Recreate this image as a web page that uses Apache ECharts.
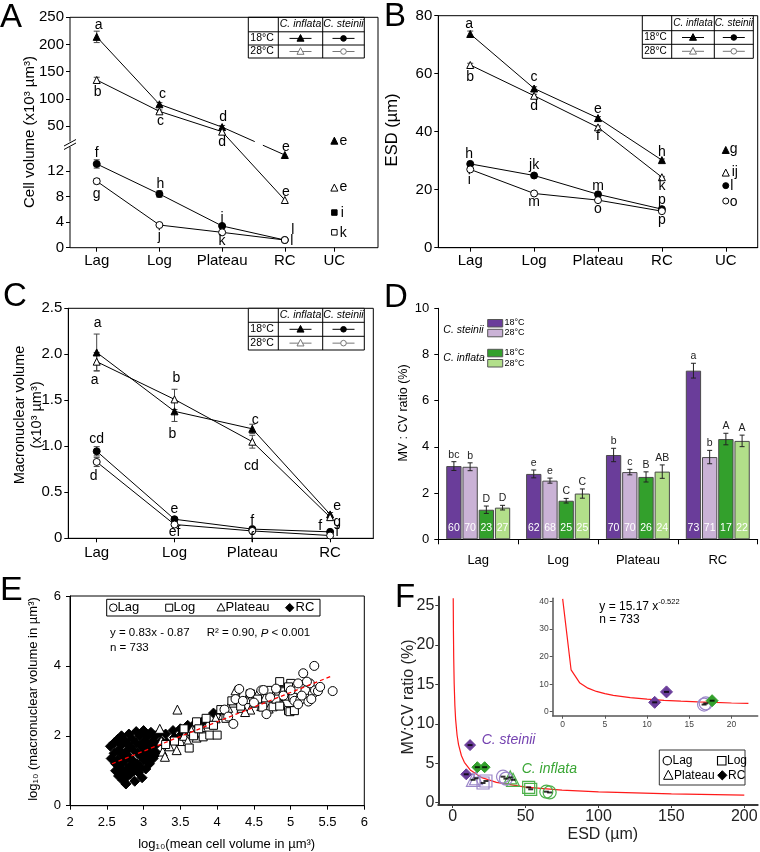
<!DOCTYPE html>
<html><head><meta charset="utf-8">
<script src="https://cdn.jsdelivr.net/npm/echarts@6/dist/echarts.min.js"></script>
<style>html,body{margin:0;padding:0;background:#fff}#c{width:760px;height:852px}</style>
</head><body><div id="c"></div>
<script>
const FONT = '"Liberation Sans", Arial, sans-serif';
const stages = ['Lag', 'Log', 'Plateau', 'RC', 'UC'];

// ===== Panel A: cell volume (x10^3 µm^3) =====
const aX = [1, 2, 3, 4];
const aUCX = 4.79;
const aInf18Up = [214, 90, 48];          // C. inflata 18°C, upper scale
const aInf28Up = [134.7, 77, 39.6];      // C. inflata 28°C, upper scale
const aInf18UpErr = [10.5, 3, 3];
const aInf28UpErr = [5, 2.5, 2.5];
const aInf18RC = [14.5];                 // lower scale
const aInf28RC = [7.46];
const aSt18 = [13.1, 8.4, 3.4, 1.2];
const aSt28 = [10.4, 3.55, 2.4, 1.2];
const aSt18Err = [0.65, 0.5, 0.2, 0.1];
const aSt28Err = [0.4, 0.2, 0.15, 0.1];
const aUCInf18 = [23];                   // upper scale
const aUCInf28 = [9.4], aUCSt18 = [5.5], aUCSt28 = [2.4];
const aInf18Let = ['a', 'c', 'd'], aInf18RCLet = ['e'];
const aInf28Let = ['b', 'c', 'd'], aInf28RCLet = ['e'];
const aSt18Let = ['f', 'h', 'j', 'l'], aSt28Let = ['g', 'j', 'k', 'l'];
const aUCLet = ['e', 'e', 'i', 'k'];
// label offsets (px)
const aInf18Off = [[2, -12], [3, -10], [1, -10]], aInf18RCOff = [[1, -8]];
const aInf28Off = [[1, 12], [1, 10], [0, 10]], aInf28RCOff = [[1, -8]];
const aSt18Off = [[0, -11], [1, -10], [0, -8], [8, -10]];
const aSt28Off = [[0, 13], [0, 11], [0, 9], [7, 1]];

// ===== Panel B: ESD (µm) =====
const bX = [1, 2, 3, 4], bUCX = 5;
const bInf18 = [73.7, 54.9, 44.7, 30.2];
const bInf28 = [63.0, 52.4, 41.5, 24.3];
const bSt18 = [28.9, 24.9, 18.4, 13.3];
const bSt28 = [27.0, 18.7, 16.4, 12.6];
const bUCInf18 = [33.7], bUCInf28 = [25.9], bUCSt18 = [21.4], bUCSt28 = [16.1];
const bInf18Err = [1.0, 0.6, 0.5, 0.4], bInf28Err = [0.6, 0.5, 0.5, 0.3];
const bSt18Err = [0.3, 0.3, 0.3, 0.3], bSt28Err = [0.3, 0.3, 0.3, 0.3];
const bInf18Let = ['a', 'c', 'e', 'h'], bInf28Let = ['b', 'd', 'f', 'k'];
const bSt18Let = ['h', 'jk', 'm', 'p'], bSt28Let = ['i', 'm', 'o', 'p'];
const bUCLet = ['g', 'ij', 'l', 'o'];
const bInf18Off = [[-1, -10], [0, -11], [0, -9], [0, -8]];
const bInf28Off = [[0, 12], [0, 10], [0, 9], [0, 9]];
const bSt18Off = [[-1, -10], [0, -10], [0, -8], [0, -9]];
const bSt28Off = [[-1, 11], [0, 9], [0, 9], [0, 9]];

// ===== Panel C: macronuclear volume (x10^3 µm^3) =====
const cX = [1, 2, 3, 4];
const cInf18 = [2.02, 1.38, 1.19, 0.26];
const cInf28 = [1.92, 1.51, 1.05, 0.23];
const cSt18 = [0.946, 0.207, 0.10, 0.07];
const cSt28 = [0.83, 0.15, 0.08, 0.03];
const cInf18Err = [0.2, 0.11, 0.05, 0.02], cInf28Err = [0.1, 0.11, 0.07, 0.02];
const cSt18Err = [0.05, 0.01, 0.01, 0.01], cSt28Err = [0.05, 0.01, 0.01, 0.01];
const cInf18Let = ['a', 'b', 'c', 'e'], cInf28Let = ['a', 'b', 'cd', 'g'];
const cSt18Let = ['cd', 'e', 'f', 'f'], cSt28Let = ['d', 'ef', 'f', 'f'];
const cInf18Off = [[1, -29], [-2, 23], [3, -9], [7, -8]];
const cInf28Off = [[-2, 18], [2, -21], [-1, 24], [7, 5]];
const cSt18Off = [[0, -12], [0, -10], [0, -8], [-10, -6]];
const cSt28Off = [[-3, 14], [0, 8], [0, 7], [7, -3]];

// ===== Panel D: MV:CV ratio (%) =====
const dCats = ['Lag', 'Log', 'Plateau', 'RC'];
const dSt18 = [3.17, 2.83, 3.65, 7.30], dSt28 = [3.14, 2.54, 2.91, 3.56];
const dInf18 = [1.28, 1.67, 2.70, 4.34], dInf28 = [1.37, 1.98, 2.93, 4.26];
const dSt18Err = [0.19, 0.17, 0.29, 0.32], dSt28Err = [0.17, 0.11, 0.12, 0.29];
const dInf18Err = [0.16, 0.1, 0.22, 0.25], dInf28Err = [0.1, 0.2, 0.29, 0.25];
const dSt18Let = ['bc', 'e', 'b', 'a'], dSt28Let = ['b', 'e', 'c', 'b'];
const dInf18Let = ['D', 'C', 'B', 'A'], dInf28Let = ['D', 'C', 'AB', 'A'];
const dSt18N = [60, 62, 70, 73], dSt28N = [70, 68, 70, 71];
const dInf18N = [23, 25, 26, 17], dInf28N = [27, 25, 24, 22];

// ===== Panel E: log10 MV vs log10 CV =====
const eRC = [[2.55,1.7],[2.56,1.35],[2.6,1.8],[2.6,1.5],[2.62,1.2],[2.62,1.0],[2.65,1.9],[2.66,1.6],[2.65,1.3],[2.67,1.1],[2.66,0.85],
  [2.7,2.0],[2.7,1.75],[2.71,1.45],[2.7,1.2],[2.72,0.95],[2.72,0.72],[2.75,1.85],[2.76,1.55],[2.75,1.3],[2.77,1.05],[2.76,0.8],[2.76,0.62],
  [2.8,2.05],[2.81,1.7],[2.8,1.4],[2.82,1.15],[2.82,0.9],[2.85,1.9],[2.86,1.6],[2.85,1.3],[2.87,1.0],[2.88,0.7],
  [2.9,2.12],[2.9,1.8],[2.92,1.5],[2.91,1.2],[2.93,0.95],[2.95,2.0],[2.96,1.7],[2.97,1.4],[2.96,1.1],[2.98,0.8],
  [3.0,2.15],[3.01,1.85],[3.02,1.55],[3.0,1.3],[3.03,1.05],[3.05,2.0],[3.07,1.7],[3.06,1.45],[3.08,1.2],
  [3.1,2.1],[3.12,1.85],[3.11,1.6],[3.13,1.35],[3.16,2.0],[3.17,1.75],[3.18,1.5],[3.22,2.1],[3.24,1.85],
  [3.3,2.05],[3.32,1.8],[3.4,2.15],[3.42,1.95],[3.5,2.2],[3.52,2.05],[3.6,2.3],[3.62,2.12],[3.7,2.35],[3.8,2.4],[3.95,2.65],[4.05,2.7]];
const ePlateau = [[3.46,2.75],[3.22,2.2],[3.24,1.85],[3.26,1.55],[3.29,1.4],[3.35,1.7],[3.45,1.59],[3.5,1.85],[3.55,2.0],[3.6,1.85],
  [3.65,2.15],[3.72,1.95],[3.78,2.25],[3.88,2.35],[3.98,2.5],[4.08,2.6],[4.15,2.8],[4.22,2.95],[4.28,3.1],[4.33,2.8],[4.4,3.05],
  [4.45,2.75],[4.5,2.95],[4.55,3.2],[4.6,2.85],[4.65,3.1],[4.7,2.78],[4.75,3.2],[4.8,3.0],[4.88,2.9],[4.92,3.15],[4.38,2.68],[4.25,3.3]];
const eLog = [[3.3,1.75],[3.42,1.85],[3.55,2.2],[3.62,1.65],[3.68,2.0],[3.72,2.4],[3.81,1.97],[3.85,2.5],[3.9,2.02],[3.95,2.3],[4.0,2.02],
  [4.05,2.75],[4.12,2.5],[4.2,3.0],[4.32,2.85],[4.45,3.2],[4.55,3.05],[4.62,2.82],[4.7,3.3],[4.76,2.83],[4.8,3.05],[4.85,3.55],[4.85,2.85],
  [4.9,3.3],[4.92,3.26],[4.97,2.72],[4.99,2.69],[5.0,3.5],[5.03,3.1],[5.05,2.72],[4.97,3.4],[3.75,2.2]];
const eLag = [[4.1,2.75],[4.15,2.55],[4.22,2.34],[4.25,3.05],[4.3,3.34],[4.35,3.0],[4.45,3.22],[4.5,2.95],[4.6,3.3],[4.63,3.31],[4.67,2.62],
  [4.72,3.1],[4.8,3.35],[4.9,3.15],[5.0,3.3],[5.05,3.0],[5.1,3.5],[5.13,3.02],[5.17,3.79],[5.2,3.3],[5.24,2.98],[5.26,3.5],[5.3,3.2],
  [5.32,4.0],[5.33,3.3],[5.37,3.28],[5.22,3.55],[5.15,3.15],[5.57,3.28],[5.4,3.4],[5.1,2.9],[5.28,3.05]];
const eFit = [[2.57, 1.2], [5.57, 3.72]];

// ===== Panel F: MV:CV ratio vs ESD =====
const fCurve = [[0.36,25.9],[0.5,21.8],[0.7,18.3],[1,15.17],[1.5,12.28],[2,10.56],[3,8.55],[4,7.36],[6,5.95],[8,5.12],[12,4.15],
  [20,3.17],[30,2.57],[50,1.97],[75,1.59],[100,1.37],[150,1.11],[200,0.95]];
const fStRC = [[11.9,7.3],[9.3,3.6]], fStPlat = [[13.9,2.9],[16,3.1]], fStLog = [[20.8,2.5],[22.8,2.75]], fStLag = [[34.5,3.3],[36.5,3.05]];
const fInfRC = [[16.9,4.5],[21.9,4.5]], fInfPlat = [[41.4,2.9],[39.5,3.2]], fInfLog = [[52.1,1.95],[53.5,1.7]], fInfLag = [[64.2,1.4],[66.5,1.3]];
const fInset = [[0,41],[1,15.17],[2,10.56],[3,8.55],[4,7.36],[5,6.55],[6,5.95],[8,5.12],[10,4.56],[12,4.15],[14,3.83],[16,3.57],[18,3.36],[20,3.17],[22,3.02]];
const fInStRC = [[10.9,3.4],[12.3,7.2]], fInStLag = [[16.75,2.6],[16.95,3.0]], fInInfRC = [[17.7,4.0]];

// ---------- colours ----------
const PURPLE = '#6a3d9a', LPURPLE = '#cab2d6', GREEN = '#33a02c', LGREEN = '#b2df8a';

// ---------- helpers ----------
function axis(o) {
  const a = {
    type: o.type || 'value', gridIndex: o.grid, show: o.show !== false,
    axisLine: {show: o.line !== false, onZero: false, lineStyle: {color: o.color || '#000', width: o.lw || 1}},
    axisTick: {show: true, inside: false, length: o.tick || 4, alignWithLabel: false, lineStyle: {color: o.color || '#000', width: o.tw || 1}},
    axisLabel: {color: o.lc || '#000', fontSize: o.fs || 15, fontFamily: FONT, margin: o.margin || 6},
    splitLine: {show: false}
  };
  if (o.min !== undefined) a.min = o.min;
  if (o.max !== undefined) a.max = o.max;
  if (o.interval !== undefined) a.interval = o.interval;
  if (o.fmt) a.axisLabel.formatter = o.fmt;
  if (o.data) { a.data = o.data; a.boundaryGap = true; }
  if (o.custom) { a.axisTick.customValues = o.custom; a.axisLabel.customValues = o.custom; }
  return a;
}
function pts(xs, ys, lets, offs) {
  return ys.map((y, i) => ({value: [xs[i], y], label: {formatter: lets[i], offset: offs[i]}}));
}
function markSer(type, gi, data, sym, filled, size) {
  return {
    type: type, xAxisIndex: gi, yAxisIndex: gi, z: 3, symbol: sym, symbolSize: size || 7,
    itemStyle: {color: filled ? '#000' : '#fff', borderColor: '#000', borderWidth: 1, opacity: 1},
    lineStyle: {color: '#000', width: 1}, emphasis: {disabled: true}, silent: true,
    label: {show: true, position: 'inside', color: '#000', fontSize: 14, fontFamily: FONT},
    data: data
  };
}
function errSer(gi, xs, ys, es, cap) {
  return {
    type: 'custom', xAxisIndex: gi, yAxisIndex: gi, z: 2, silent: true,
    data: ys.map((y, i) => [xs[i], y, es[i]]),
    renderItem: function (p, api) {
      const x = api.value(0), y = api.value(1), e = api.value(2);
      const a = api.coord([x, y + e]), b = api.coord([x, y - e]);
      const st = {stroke: '#444', lineWidth: 1};
      return {type: 'group', children: [
        {type: 'line', shape: {x1: a[0], y1: a[1], x2: b[0], y2: b[1]}, style: st},
        {type: 'line', shape: {x1: a[0] - cap, y1: a[1], x2: a[0] + cap, y2: a[1]}, style: st},
        {type: 'line', shape: {x1: b[0] - cap, y1: b[1], x2: b[0] + cap, y2: b[1]}, style: st}]};
    }
  };
}
const D_BW = 15.3;
function dBar(name, vals, color, ns) {
  return {
    type: 'bar', name: name, xAxisIndex: 4, yAxisIndex: 4, data: vals, barWidth: D_BW, barGap: '6%',
    itemStyle: {color: color, borderColor: '#4a4a4a', borderWidth: 1}, emphasis: {disabled: true}, silent: true,
    label: {show: true, position: 'insideBottom', distance: 6, color: '#fff', fontSize: 10.5, fontFamily: FONT,
      formatter: p => String(ns[p.dataIndex])}
  };
}
function dErr(vals, errs, lets, k) {
  return {
    type: 'custom', xAxisIndex: 4, yAxisIndex: 4, z: 4, silent: true,
    data: vals.map((v, i) => [i, v, errs[i]]),
    renderItem: function (p, api) {
      const ci = api.value(0), v = api.value(1), e = api.value(2);
      const off = (k - 1.5) * (D_BW * 1.06);
      const a = api.coord([ci, v + e]), b = api.coord([ci, v - e]);
      const x = a[0] + off, st = {stroke: '#222', lineWidth: 1};
      return {type: 'group', children: [
        {type: 'line', shape: {x1: x, y1: a[1], x2: x, y2: b[1]}, style: st},
        {type: 'line', shape: {x1: x - 2.5, y1: a[1], x2: x + 2.5, y2: a[1]}, style: st},
        {type: 'line', shape: {x1: x - 2.5, y1: b[1], x2: x + 2.5, y2: b[1]}, style: st},
        {type: 'text', style: {text: lets[p.dataIndex], x: x, y: a[1] - 1.5, align: 'center', verticalAlign: 'bottom',
          fontSize: 10.5, fontFamily: FONT, fill: '#222'}}]};
    }
  };
}
function eSer(data, sym, size, filled) {
  return {type: 'scatter', xAxisIndex: 5, yAxisIndex: 5, data: data, symbol: sym, symbolSize: size, silent: true,
    itemStyle: {color: filled ? '#000' : '#fff', borderColor: '#000', borderWidth: 1, opacity: 1}, emphasis: {disabled: true}};
}
function fSer(gi, data, sym, size, color, filled) {
  return {type: 'scatter', xAxisIndex: gi, yAxisIndex: gi, data: data, symbol: sym, symbolSize: size, silent: true, z: 3,
    itemStyle: filled ? {color: color, borderColor: color, borderWidth: 1, opacity: 1} : {color: 'rgba(255,255,255,0)', borderColor: color, borderWidth: 1.2, opacity: 1},
    emphasis: {disabled: true}};
}
function fMark(gi, data) {
  return {type: 'scatter', xAxisIndex: gi, yAxisIndex: gi, data: data, symbol: 'rect', symbolSize: [5, 2], z: 5, silent: true,
    itemStyle: {color: '#000'}, emphasis: {disabled: true}};
}

// ---------- graphics ----------
const G = [];
function txt(x, y, s, o) {
  G.push({type: 'text', x: x, y: y, rotation: (o && o.rot) || 0, z: 100, silent: true,
    style: Object.assign({text: s, fill: '#000', fontSize: 12, fontFamily: FONT, align: 'left', verticalAlign: 'middle'}, o ? o.st : {})});
}
function ln(x1, y1, x2, y2, c, w) {
  G.push({type: 'line', z: 100, silent: true, shape: {x1, y1, x2, y2}, style: {stroke: c || '#000', lineWidth: w || 1}});
}
function rc(x, y, w, h, fill, stroke, lw) {
  G.push({type: 'rect', z: 99, silent: true, shape: {x, y, width: w, height: h}, style: {fill: fill || 'none', stroke: stroke || '#000', lineWidth: lw || 1}});
}
function poly(points, fill, stroke, lw) {
  G.push({type: 'polygon', z: 100, silent: true, shape: {points}, style: {fill: fill, stroke: stroke || '#000', lineWidth: lw || 1}});
}
function circ(cx, cy, r, fill, stroke, lw) {
  G.push({type: 'circle', z: 100, silent: true, shape: {cx, cy, r}, style: {fill: fill, stroke: stroke || '#000', lineWidth: lw || 1}});
}
function triAt(cx, cy, s, fill, stroke) { poly([[cx, cy - s * 0.55], [cx + s * 0.5, cy + s * 0.4], [cx - s * 0.5, cy + s * 0.4]], fill, stroke); }
function diaAt(cx, cy, h, fill) { poly([[cx, cy - h], [cx + h, cy], [cx, cy + h], [cx - h, cy]], fill, fill); }
function table(cols, rows, fs) {
  rc(cols[0], rows[0], cols[3] - cols[0], rows[3] - rows[0], '#fff', '#000', 1);
  ln(cols[1], rows[0], cols[1], rows[3]); ln(cols[2], rows[0], cols[2], rows[3]);
  ln(cols[0], rows[1], cols[3], rows[1]); ln(cols[0], rows[2], cols[3], rows[2]);
  const my = j => (rows[j] + rows[j + 1]) / 2, mx = i => (cols[i] + cols[i + 1]) / 2;
  txt(mx(1), my(0), 'C. inflata', {st: {fontStyle: 'italic', align: 'center', fontSize: fs}});
  txt(mx(2), my(0), 'C. steinii', {st: {fontStyle: 'italic', align: 'center', fontSize: fs}});
  txt(cols[0] + 2, my(1), '18°C', {st: {fontSize: fs}});
  txt(cols[0] + 2, my(2), '28°C', {st: {fontSize: fs}});
  for (let r = 1; r <= 2; r++) {
    const c = r === 1 ? '#000' : '#777', fill = r === 1 ? '#000' : '#fff';
    ln(mx(1) - 11, my(r), mx(1) + 11, my(r), c); triAt(mx(1), my(r), 7, fill, c);
    ln(mx(2) - 11, my(r), mx(2) + 11, my(r), c); circ(mx(2), my(r), 2.8, fill, c);
  }
}

// panel letters
txt(0, 18, 'A', {st: {fontSize: 33}});
txt(384, 17, 'B', {st: {fontSize: 33}});
txt(3, 297, 'C', {st: {fontSize: 33}});
txt(384, 298, 'D', {st: {fontSize: 33}});
txt(0, 591, 'E', {st: {fontSize: 34}});
txt(395, 598, 'F', {st: {fontSize: 33}});

// axis titles
txt(30, 132, 'Cell volume (x10³ µm³)', {rot: Math.PI / 2, st: {align: 'center', fontSize: 15}});
txt(392.5, 130, 'ESD (µm)', {rot: Math.PI / 2, st: {align: 'center', fontSize: 16.5}});
txt(19.5, 415, 'Macronuclear volume', {rot: Math.PI / 2, st: {align: 'center', fontSize: 14.5}});
txt(37, 415, '(x10³ µm³)', {rot: Math.PI / 2, st: {align: 'center', fontSize: 14.5}});
txt(403.3, 413, 'MV : CV ratio (%)', {rot: Math.PI / 2, st: {align: 'center', fontSize: 12.5}});
txt(33, 699, 'log₁₀ (macronuclear volume in µm³)', {rot: Math.PI / 2, st: {align: 'center', fontSize: 13}});
txt(226.7, 844, 'log₁₀(mean cell volume in µm³)', {st: {align: 'center', fontSize: 13}});
txt(409, 697, 'MV:CV ratio (%)', {rot: Math.PI / 2, st: {align: 'center', fontSize: 16, fill: '#222'}});
txt(602.8, 835, 'ESD (µm)', {st: {align: 'center', fontSize: 16, fill: '#222'}});

// A frame with axis break
G.push({type: 'polyline', z: 100, silent: true, shape: {points: [[70, 141.5], [70, 17.3], [378, 17.3], [378, 247.7], [70, 247.7], [70, 147]]},
  style: {stroke: '#000', lineWidth: 1, fill: 'none'}});
ln(64, 146, 76, 139.5); ln(64, 149.5, 76, 143);

// tables
table([248.3, 278.3, 322.7, 364.3], [17.3, 31.8, 45, 58], 10.5);
table([642.3, 671.7, 714.3, 753.3], [15.7, 30.7, 44.3, 58.3], 10);
table([248.3, 278.3, 322.7, 364.3], [308.3, 322.3, 336.3, 350], 10.5);

// D legend
txt(443.3, 330, 'C. steinii', {st: {fontStyle: 'italic', fontSize: 10.5}});
rc(487.7, 319.5, 15, 7.5, PURPLE, '#555'); rc(487.7, 329.3, 15, 7.5, LPURPLE, '#555');
txt(504.5, 323, '18°C', {st: {fontSize: 9}}); txt(504.5, 333, '28°C', {st: {fontSize: 9}});
txt(443.3, 358, 'C. inflata', {st: {fontStyle: 'italic', fontSize: 10.5}});
rc(487.7, 349.3, 15, 7.5, GREEN, '#555'); rc(487.7, 359.5, 15, 7.5, LGREEN, '#555');
txt(504.5, 352.5, '18°C', {st: {fontSize: 9}}); txt(504.5, 363.3, '28°C', {st: {fontSize: 9}});

// E legend + text
rc(106.7, 599.3, 213.3, 16.7, '#fff', '#000', 1);
circ(113.3, 607.7, 3.8, '#fff', '#000'); txt(117.5, 607.9, 'Lag', {st: {fontSize: 13}});
rc(165.7, 604.2, 7, 7, '#fff', '#000'); txt(173.5, 607.9, 'Log', {st: {fontSize: 13}});
triAt(221, 607.7, 8, '#fff', '#000'); txt(225.5, 607.9, 'Plateau', {st: {fontSize: 13}});
diaAt(289.7, 607.7, 4.2, '#000'); txt(295.5, 607.9, 'RC', {st: {fontSize: 13}});
txt(110, 633.3, 'y = 0.83x - 0.87', {st: {fontSize: 11.5}});
txt(206.7, 633.3, '{n|R² = 0.90, }{i|P}{n| < 0.001}', {st: {fontSize: 11.5, rich: {n: {fontSize: 11.5, fontFamily: FONT}, i: {fontSize: 11.5, fontFamily: FONT, fontStyle: 'italic'}}}});
txt(110, 648.3, 'n = 733', {st: {fontSize: 11.5}});

// F annotations + legend
txt(481.7, 740, 'C. steinii', {st: {fontStyle: 'italic', fontSize: 14, fill: '#7442b0'}});
txt(521.7, 769, 'C. inflata', {st: {fontStyle: 'italic', fontSize: 14, fill: '#3aa635'}});
txt(599.3, 605, '{a|y = 15.17 x}{b|-0.522}', {st: {rich: {a: {fontSize: 12, fontFamily: FONT, verticalAlign: 'bottom', lineHeight: 15}, b: {fontSize: 7.5, fontFamily: FONT, verticalAlign: 'top', lineHeight: 15}}}});
txt(599.3, 619.5, 'n = 733', {st: {fontSize: 12}});
rc(659.3, 750, 85.7, 35, '#fff', '#333', 1);
circ(667.3, 760.7, 4.2, 'none', '#000', 1.1); txt(672.5, 760.9, 'Lag', {st: {fontSize: 12}});
rc(717.5, 756.5, 8.5, 8.5, 'none', '#000', 1.1); txt(727, 760.9, 'Log', {st: {fontSize: 12}});
triAt(668.3, 775.5, 9.5, 'none', '#000'); txt(674, 775.5, 'Plateau', {st: {fontSize: 12}});
diaAt(722.3, 775.3, 4.6, '#000'); txt(728, 775.5, 'RC', {st: {fontSize: 12}});

// ---------- option ----------
const fmtA = v => stages[[1, 2, 3, 4, aUCX].indexOf(v)];
const fmtB = v => stages[v - 1];
const noOB = {outerBoundsMode: 'none'};
const option = {
  animation: false,
  backgroundColor: '#fff',
  textStyle: {fontFamily: FONT},
  grid: [
    Object.assign({left: 70, top: 17.3, width: 308, height: 126.7}, noOB),
    Object.assign({left: 70, top: 144, width: 308, height: 103.7}, noOB),
    Object.assign({left: 438.3, top: 15.7, width: 319.4, height: 232, show: true, borderColor: '#000', borderWidth: 1}, noOB),
    Object.assign({left: 68.3, top: 308.3, width: 305, height: 230, show: true, borderColor: '#000', borderWidth: 1}, noOB),
    Object.assign({left: 438.3, top: 308.3, width: 319.4, height: 231}, noOB),
    Object.assign({left: 70, top: 596, width: 294.3, height: 209.7, show: true, borderColor: '#000', borderWidth: 1}, noOB),
    Object.assign({left: 438.3, top: 596.7, width: 319.4, height: 208.3}, noOB),
    Object.assign({left: 552.7, top: 598.3, width: 205, height: 117.4}, noOB)
  ],
  xAxis: [
    axis({grid: 0, min: 0.574, max: 5.486, show: false}),
    axis({grid: 1, min: 0.574, max: 5.486, line: false, custom: [1, 2, 3, 4, aUCX], fmt: fmtA, margin: 6}),
    axis({grid: 2, min: 0.5, max: 5.5, custom: [1, 2, 3, 4, 5], fmt: fmtB, margin: 6}),
    axis({grid: 3, min: 0.635, max: 4.555, custom: [1, 2, 3, 4], fmt: fmtB, margin: 7}),
    axis({grid: 4, type: 'category', data: dCats, fs: 13, margin: 15, tick: 5}),
    axis({grid: 5, min: 2, max: 6, interval: 0.5, fs: 13, margin: 10}),
    axis({grid: 6, min: -9.88, max: 209.2, custom: [0, 50, 100, 150, 200], color: '#3a3a3a', lw: 2, tick: 3, fs: 16, lc: '#222', margin: 4}),
    axis({grid: 7, min: -1.18, max: 23.1, custom: [0, 5, 10, 15, 20], color: '#555', lw: 1.5, tick: 3, fs: 8.5, lc: '#444', margin: 4})
  ],
  yAxis: [
    axis({grid: 0, min: 16.9, max: 250, line: false, custom: [50, 100, 150, 200, 250], margin: 6}),
    axis({grid: 1, min: 0, max: 16.22, line: false, custom: [0, 4, 8, 12], margin: 6}),
    axis({grid: 2, min: 0, max: 80, interval: 20, margin: 6}),
    axis({grid: 3, min: 0, max: 2.5, interval: 0.5, margin: 6, fmt: v => (v === 0 ? '0' : v.toFixed(1))}),
    axis({grid: 4, min: 0, max: 10, interval: 2, fs: 13, margin: 9}),
    axis({grid: 5, min: 0, max: 6, interval: 2, fs: 13, margin: 9}),
    axis({grid: 6, min: -0.29, max: 26.1, custom: [0, 5, 10, 15, 20, 25], color: '#3a3a3a', lw: 2, tick: 3, fs: 16, lc: '#222', margin: 4}),
    axis({grid: 7, min: -1.45, max: 41.2, custom: [0, 10, 20, 30, 40], color: '#555', lw: 1.5, tick: 3, fs: 8.5, lc: '#444', margin: 4})
  ],
  series: [
    // ---- A ----
    errSer(0, aX, aInf18Up, aInf18UpErr, 3), errSer(0, aX, aInf28Up, aInf28UpErr, 3),
    errSer(1, aX, aSt18, aSt18Err, 3), errSer(1, aX, aSt28, aSt28Err, 3),
    markSer('line', 0, pts(aX, aInf18Up, aInf18Let, aInf18Off), 'triangle', true),
    markSer('line', 0, pts(aX, aInf28Up, aInf28Let, aInf28Off), 'triangle', false),
    markSer('scatter', 1, pts([4], aInf18RC, aInf18RCLet, aInf18RCOff), 'triangle', true),
    markSer('scatter', 1, pts([4], aInf28RC, aInf28RCLet, aInf28RCOff), 'triangle', false),
    markSer('line', 1, pts(aX, aSt18, aSt18Let, aSt18Off), 'circle', true),
    markSer('line', 1, pts(aX, aSt28, aSt28Let, aSt28Off), 'circle', false),
    markSer('scatter', 0, pts([aUCX], aUCInf18, [aUCLet[0]], [[9, 0]]), 'triangle', true),
    markSer('scatter', 1, pts([aUCX], aUCInf28, [aUCLet[1]], [[9, 0]]), 'triangle', false),
    markSer('scatter', 1, pts([aUCX], aUCSt18, [aUCLet[2]], [[8, 1]]), 'rect', true, 5.5),
    markSer('scatter', 1, pts([aUCX], aUCSt28, [aUCLet[3]], [[9, 1]]), 'rect', false, 5.5),
    // ---- B ----
    errSer(2, bX, bInf18, bInf18Err, 3), errSer(2, bX, bInf28, bInf28Err, 3),
    errSer(2, bX, bSt18, bSt18Err, 2), errSer(2, bX, bSt28, bSt28Err, 2),
    markSer('line', 2, pts(bX, bInf18, bInf18Let, bInf18Off), 'triangle', true),
    markSer('line', 2, pts(bX, bInf28, bInf28Let, bInf28Off), 'triangle', false),
    markSer('line', 2, pts(bX, bSt18, bSt18Let, bSt18Off), 'circle', true),
    markSer('line', 2, pts(bX, bSt28, bSt28Let, bSt28Off), 'circle', false),
    markSer('scatter', 2, pts([bUCX], bUCInf18, [bUCLet[0]], [[8, -1]]), 'triangle', true),
    markSer('scatter', 2, pts([bUCX], bUCInf28, [bUCLet[1]], [[9, 0]]), 'triangle', false),
    markSer('scatter', 2, pts([bUCX], bUCSt18, [bUCLet[2]], [[6, 1]]), 'circle', true, 6),
    markSer('scatter', 2, pts([bUCX], bUCSt28, [bUCLet[3]], [[8, 1]]), 'circle', false, 6),
    // ---- C ----
    errSer(3, cX, cInf18, cInf18Err, 3), errSer(3, cX, cInf28, cInf28Err, 3),
    errSer(3, cX, cSt18, cSt18Err, 3), errSer(3, cX, cSt28, cSt28Err, 3),
    markSer('line', 3, pts(cX, cInf18, cInf18Let, cInf18Off), 'triangle', true),
    markSer('line', 3, pts(cX, cInf28, cInf28Let, cInf28Off), 'triangle', false),
    markSer('line', 3, pts(cX, cSt18, cSt18Let, cSt18Off), 'circle', true),
    markSer('line', 3, pts(cX, cSt28, cSt28Let, cSt28Off), 'circle', false),
    // ---- D ----
    dBar('C. steinii 18°C', dSt18, PURPLE, dSt18N), dBar('C. steinii 28°C', dSt28, LPURPLE, dSt28N),
    dBar('C. inflata 18°C', dInf18, GREEN, dInf18N), dBar('C. inflata 28°C', dInf28, LGREEN, dInf28N),
    dErr(dSt18, dSt18Err, dSt18Let, 0), dErr(dSt28, dSt28Err, dSt28Let, 1),
    dErr(dInf18, dInf18Err, dInf18Let, 2), dErr(dInf28, dInf28Err, dInf28Let, 3),
    // ---- E ----
    eSer(eRC, 'diamond', 10, true), eSer(ePlateau, 'triangle', 9, false),
    eSer(eLog, 'rect', 8, false), eSer(eLag, 'circle', 9, false),
    {type: 'line', xAxisIndex: 5, yAxisIndex: 5, data: eFit, symbol: 'none', z: 6, silent: true,
      lineStyle: {color: '#ff0000', width: 1.3, type: [4, 3]}},
    // ---- F main ----
    {type: 'line', xAxisIndex: 6, yAxisIndex: 6, data: fCurve, symbol: 'none', z: 2, silent: true, lineStyle: {color: '#ff1a1a', width: 1.2}},
    fSer(6, fInfLag, 'circle', 13, '#4cb04a', false), fSer(6, fInfLog, 'rect', 12, '#4cb04a', false),
    fSer(6, fInfPlat, 'triangle', 13, '#4cb04a', false),
    fSer(6, fStLag, 'circle', 13, '#9b86c9', false), fSer(6, fStLog, 'rect', 12, '#9b86c9', false),
    fSer(6, fStPlat, 'triangle', 13, '#9b86c9', false),
    fSer(6, fInfRC, 'diamond', 11, GREEN, true), fSer(6, fStRC, 'diamond', 11, PURPLE, true),
    fMark(6, fStRC.concat(fStPlat, fStLog, fStLag, fInfRC, fInfPlat, fInfLog, fInfLag)),
    // ---- F inset ----
    {type: 'line', xAxisIndex: 7, yAxisIndex: 7, data: fInset, symbol: 'none', z: 2, silent: true, lineStyle: {color: '#ff1a1a', width: 1.2}},
    fSer(7, fInStLag, 'circle', 13, '#9b86c9', false),
    fSer(7, fInInfRC, 'diamond', 12, GREEN, true), fSer(7, fInStRC, 'diamond', 12, PURPLE, true),
    fMark(7, fInStRC.concat(fInStLag, fInInfRC))
  ]
};

const chart = echarts.init(document.getElementById('c'));
chart.setOption(option);

// lines of panel A that cross the axis break (upper scale -> lower scale)
const P = (gi, v) => chart.convertToPixel({xAxisIndex: gi, yAxisIndex: gi}, v);
const lerp = (a, b, t) => [a[0] + (b[0] - a[0]) * t, a[1] + (b[1] - a[1]) * t];
const seg = (a, b) => G.push({type: 'line', z: 1, silent: true, shape: {x1: a[0], y1: a[1], x2: b[0], y2: b[1]}, style: {stroke: '#000', lineWidth: 1}});
const p18a = P(0, [aX[2], aInf18Up[2]]), p18b = P(1, [aX[3], aInf18RC[0]]);
const p28a = P(0, [aX[2], aInf28Up[2]]), p28b = P(1, [aX[3], aInf28RC[0]]);
seg(p18a, lerp(p18a, p18b, 0.52)); seg(lerp(p18a, p18b, 0.65), p18b);
seg(p28a, p28b);
chart.setOption({graphic: {elements: G}});
</script></body></html>
